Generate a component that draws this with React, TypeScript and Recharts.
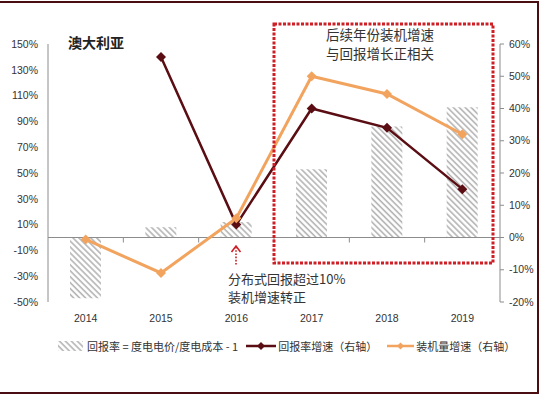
import React from 'react';
import { ComposedChart, Bar, Line, XAxis, YAxis, ReferenceLine } from 'recharts';

const years = ['2014', '2015', '2016', '2017', '2018', '2019'];
// 回报率 = 度电电价/度电成本 - 1 (left axis, %)
const returnRate = [-47, 8, 12, 53, 86, 101];
// 回报率增速 (right axis, %)
const returnGrowth = [null, 56, 4, 40, 34, 15];
// 装机量增速 (right axis, %)
const installGrowth = [-0.6, -11, 6, 50, 44.5, 32];

const leftTicks = [-50, -30, -10, 10, 30, 50, 70, 90, 110, 130, 150];
const rightTicks = [-20, -10, 0, 10, 20, 30, 40, 50, 60];

const data = years.map((year, i) => ({
  year,
  returnRate: returnRate[i],
  returnGrowth: returnGrowth[i],
  installGrowth: installGrowth[i],
}));

const DARK = '#5a0d12';
const ORANGE = '#f2a35e';
const RED = '#cc1f26';
const AXIS = '#8c8c8c';
const CJK = '"Noto Sans CJK SC", "Noto Sans", sans-serif';
const NUM = '"Liberation Sans", Arial, sans-serif';

const diamond = (color: string, r: number) => (props: any) => {
  const { cx, cy, index } = props;
  if (cx == null || cy == null || props.value == null) return <g key={`n-${index}`} />;
  return (
    <path
      key={`d-${index}`}
      d={`M${cx},${cy - r}L${cx + r},${cy}L${cx},${cy + r}L${cx - r},${cy}Z`}
      fill={color}
    />
  );
};

// x labels at the bottom, small tick marks on the zero line between categories
const YearTick = (props: any) => {
  const { x, y, payload, index } = props;
  const zeroY = y - 258 * (50 / 200);
  const half = payload.offset || 37.7;
  return (
    <g>
      <text x={x} y={y + 16} dy="0.35em" textAnchor="middle" fontSize={10.5} fill="#333" fontFamily={NUM}>
        {payload.value}
      </text>
      {index > 0 && <line x1={x - half} x2={x - half} y1={zeroY} y2={zeroY + 5} stroke={AXIS} />}
    </g>
  );
};

const Hatch = ({ id }: { id: string }) => (
  <pattern id={id} patternUnits="userSpaceOnUse" width={4.2} height={4.2} patternTransform="rotate(-45)">
    <rect width={4.2} height={4.2} fill="#fff" />
    <line x1={1} y1={0} x2={1} y2={4.2} stroke="#b3b3b3" strokeWidth={1.6} />
  </pattern>
);

export default function App() {
  return (
    <div style={{ position: 'absolute', left: 0, top: 0, width: 540, height: 396, background: '#fff' }}>
      <ComposedChart
        width={540}
        height={396}
        data={data}
        margin={{ top: 44, right: 0, bottom: 64, left: 0 }}
        barSize={31}
      >
        <defs>
          <Hatch id="hatch" />
        </defs>
        <XAxis
          dataKey="year"
          height={30}
          axisLine={false}
          tickLine={false}
          tickSize={0}
          tickMargin={0}
          tick={<YearTick />}
          interval={0}
        />
        <YAxis
          yAxisId="left"
          domain={[-50, 150]}
          ticks={leftTicks}
          width={48}
          tickLine={false}
          tickSize={0}
          tickMargin={10}
          axisLine={{ stroke: AXIS }}
          tickFormatter={(v: number) => `${v}%`}
          tick={{ fontSize: 10.5, fill: '#333', fontFamily: NUM }}
          interval={0}
        />
        <YAxis
          yAxisId="right"
          orientation="right"
          domain={[-20, 60]}
          ticks={rightTicks}
          width={40}
          tickSize={4}
          tickMargin={5}
          tickLine={{ stroke: AXIS }}
          axisLine={{ stroke: AXIS }}
          tickFormatter={(v: number) => `${v}%`}
          tick={{ fontSize: 10.5, fill: '#333', fontFamily: NUM }}
          interval={0}
        />
        <ReferenceLine yAxisId="left" y={0} stroke={AXIS} />
        <Bar yAxisId="left" dataKey="returnRate" fill="url(#hatch)" isAnimationActive={false} />
        <Line
          yAxisId="right"
          dataKey="returnGrowth"
          stroke={DARK}
          strokeWidth={2.5}
          dot={diamond(DARK, 5)}
          activeDot={false}
          isAnimationActive={false}
        />
        <Line
          yAxisId="right"
          dataKey="installGrowth"
          stroke={ORANGE}
          strokeWidth={3}
          dot={diamond(ORANGE, 5)}
          activeDot={false}
          isAnimationActive={false}
        />
      </ComposedChart>

      <svg width={540} height={396} style={{ position: 'absolute', left: 0, top: 0, pointerEvents: 'none' }}>
        <text x={68} y={48} fontSize={14} fontWeight="bold" fill="#222" fontFamily={CJK}>澳大利亚</text>
        <rect x={274} y={24} width={219} height={239} fill="none" stroke={RED} strokeWidth={3} strokeDasharray="3 1.5" />
        <text x={380} y={40} textAnchor="middle" fontSize={13.5} fill="#333" fontFamily={CJK}>后续年份装机增速</text>
        <text x={380} y={59} textAnchor="middle" fontSize={13.5} fill="#333" fontFamily={CJK}>与回报增长正相关</text>
        <line x1={236} x2={236} y1={247} y2={266} stroke={RED} strokeWidth={1.6} strokeDasharray="1.6 1.6" />
        <polyline points="231.5,252 236,246 240.5,252" fill="none" stroke={RED} strokeWidth={1.6} />
        <text x={228} y={284} fontSize={13} fill="#333" fontFamily={CJK}>分布式回报超过10%</text>
        <text x={228} y={302} fontSize={13} fill="#333" fontFamily={CJK}>装机增速转正</text>
      </svg>

      <div
        style={{
          position: 'absolute',
          left: 58,
          top: 338,
          display: 'flex',
          alignItems: 'center',
          fontFamily: CJK,
          fontSize: 11,
          color: '#333',
          whiteSpace: 'nowrap',
        }}
      >
        <svg width={25} height={10}>
          <defs>
            <Hatch id="hatch-legend" />
          </defs>
          <rect width={25} height={10} fill="url(#hatch-legend)" />
        </svg>
        <span style={{ marginLeft: 4 }}>回报率 = 度电电价/度电成本 - 1</span>
        <svg width={30} height={10} style={{ marginLeft: 8 }}>
          <line x1={0} x2={30} y1={5} y2={5} stroke={DARK} strokeWidth={2.5} />
          <path d="M15,1L19,5L15,9L11,5Z" fill={DARK} />
        </svg>
        <span style={{ marginLeft: 2 }}>回报率增速（右轴）</span>
        <svg width={27} height={10} style={{ marginLeft: 10 }}>
          <line x1={0} x2={27} y1={5} y2={5} stroke={ORANGE} strokeWidth={2.5} />
          <path d="M13.5,1.5L17,5L13.5,8.5L10,5Z" fill={ORANGE} />
        </svg>
        <span style={{ marginLeft: 2 }}>装机量增速（右轴）</span>
      </div>

      <div
        style={{
          position: 'absolute',
          left: 0,
          top: 1,
          width: 539,
          height: 393,
          boxSizing: 'border-box',
          borderTop: '2px solid #4a0e12',
          borderRight: '2px solid #4a0e12',
          borderBottom: '2px solid #4a0e12',
          pointerEvents: 'none',
        }}
      />
    </div>
  );
}
